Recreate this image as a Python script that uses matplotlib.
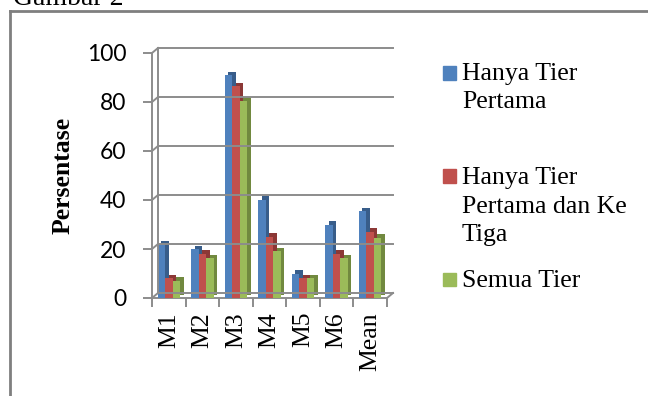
import matplotlib
matplotlib.use("Agg")
import matplotlib.pyplot as plt
from matplotlib.transforms import ScaledTranslation
from matplotlib.lines import Line2D
from matplotlib.patches import Rectangle

# data
categories = ["M1", "M2", "M3", "M4", "M5", "M6", "Mean"]
tier1 = [22, 20, 91, 40, 10, 30, 35.5]
tier13 = [8, 18, 86.5, 25, 8, 18, 27]
allTier = [7, 16.3, 80.5, 19, 8, 16.3, 24.5]
seriesNames = [["Hanya Tier", "Pertama"], ["Hanya Tier", "Pertama dan Ke", "Tiga"], ["Semua Tier"]]
yTicks = [0, 20, 40, 60, 80, 100]

faceColors = ["#4F81BD", "#C0504D", "#9BBB59"]
sideColors = ["#385D8A", "#8C3836", "#71893F"]
gridColor = "#8C8C8C"
serif = "Liberation Serif"

W, H = 648, 396
fig = plt.figure(figsize=(W / 100, H / 100), dpi=100)
ax = fig.add_axes([152 / W, (H - 298) / H, (387 - 152) / W, (298 - 53) / H])
ax.set_xlim(-0.5, len(categories) - 0.5)
ax.set_ylim(0, 100)

# data -> figure fraction
def toFig(x, y):
    return fig.transFigure.inverted().transform(ax.transData.transform((x, y)))

depthX, depthY = 6 / W, 5 / H

# back wall gridlines, left wall and floor (fake 3d)
x0, x1 = -0.5, len(categories) - 0.5
for v in yTicks:
    a = toFig(x0, v)
    b = toFig(x1, v)
    fig.add_artist(Line2D([a[0] + depthX, b[0] + depthX], [a[1] + depthY, b[1] + depthY],
                          color=gridColor, lw=1.4, zorder=0.5))
    fig.add_artist(Line2D([a[0], a[0] + depthX], [a[1], a[1] + depthY], color=gridColor, lw=1.4, zorder=0.5))
bottomLeft, topLeft, bottomRight = toFig(x0, 0), toFig(x0, 100), toFig(x1, 0)
fig.add_artist(Line2D([bottomLeft[0] + depthX] * 2, [bottomLeft[1] + depthY, topLeft[1] + depthY],
                      color=gridColor, lw=1.4, zorder=0.5))
fig.add_artist(Line2D([bottomRight[0], bottomRight[0] + depthX], [bottomRight[1], bottomRight[1] + depthY],
                      color=gridColor, lw=1.4, zorder=0.5))

# bars with a darker offset copy behind for the depth
barW = 0.224
shift = ScaledTranslation(3.5 / 100, 3.5 / 100, fig.dpi_scale_trans)
for k, values in enumerate([tier1, tier13, allTier]):
    xs = [i + (k - 1) * barW for i in range(len(categories))]
    back = ax.bar(xs, values, barW, color=sideColors[k], zorder=2 + 2 * k, linewidth=0)
    for p in back:
        p.set_transform(ax.transData + shift)
    ax.bar(xs, values, barW, color=faceColors[k], zorder=3 + 2 * k, linewidth=0)

# axes styling
for side in ["top", "right"]:
    ax.spines[side].set_visible(False)
for side in ["left", "bottom"]:
    ax.spines[side].set_color(gridColor)
    ax.spines[side].set_linewidth(1.4)
ax.set_yticks(yTicks)
ax.set_yticklabels([str(v) for v in yTicks], family="Lato", fontsize=16.5)
ax.tick_params(axis="y", length=6.5, width=1.4, color=gridColor, pad=12)
ax.set_xticks([i - 0.5 for i in range(len(categories) + 1)])
ax.set_xticklabels([])
ax.tick_params(axis="x", which="major", length=6.5, width=1.4, color=gridColor)
ax.set_xticks(range(len(categories)), minor=True)
ax.set_xticklabels(categories, minor=True, rotation=90, family=serif, fontsize=18.5, va="top")
ax.tick_params(axis="x", which="minor", length=0, pad=10)
ax.patch.set_alpha(0)

ax.set_ylabel("Persentase", family=serif, fontsize=18.5, fontweight="bold")
ax.yaxis.label.set_va("center")
ax.yaxis.set_label_coords((63 - 152) / 235, 0.5)

# legend drawn by hand to keep the uneven spacing
markerCenters = [73, 176, 279]
lineBaselines = [[80, 108], [184, 213, 241], [287]]
for k, lines in enumerate(seriesNames):
    yc = markerCenters[k]
    fig.add_artist(Rectangle((443 / W, 1 - (yc + 6.5) / H), 13 / W, 13 / H,
                             color=faceColors[k], transform=fig.transFigure))
    for line, base in zip(lines, lineBaselines[k]):
        fig.text(462 / W, 1 - base / H, line, family=serif, fontsize=18.5, va="baseline", ha="left")

# outer frame and the caption cut at the top
fig.add_artist(Line2D([10 / W, 10 / W], [0, 1 - 11 / H], color="#7F7F7F", lw=2))
fig.add_artist(Line2D([10 / W, 1], [1 - 11 / H, 1 - 11 / H], color="#7F7F7F", lw=2))
fig.text(13 / W, 1 - 5 / H, "Gambar 2", family=serif, fontsize=20, va="baseline", ha="left")

fig.savefig("out.png", dpi=100)
